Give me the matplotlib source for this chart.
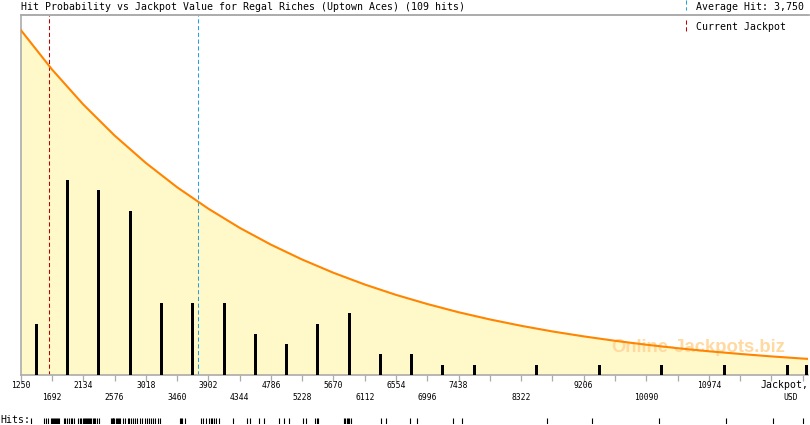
import matplotlib
matplotlib.use("Agg")
import matplotlib.pyplot as plt
from matplotlib.lines import Line2D

# ---------------- data ----------------
title = "Hit Probability vs Jackpot Value for Regal Riches (Uptown Aces) (109 hits)"
average_hit = 3750
current_jackpot = 1653

bar_x = [1471, 1913, 2355, 2797, 3239, 3681, 4123, 4565, 5007, 5449, 5891,
         6333, 6775, 7217, 7659, 8543, 9427, 10311, 11195, 12079, 12350]
bar_counts = [5, 19, 18, 16, 7, 7, 7, 4, 3, 5, 6, 2, 2, 1, 1, 1, 1, 1, 1, 1, 1]

curve_x = [1250, 1692, 2134, 2576, 3018, 3460, 3902, 4344, 4786, 5228, 5670,
           6112, 6554, 6996, 7438, 7880, 8322, 8764, 9206, 9648, 10090, 10532,
           10974, 11416, 11858, 12300, 12375]
curve_y = [33.6, 29.75, 26.34, 23.32, 20.65, 18.28, 16.19, 14.33, 12.69, 11.24,
           9.95, 8.81, 7.80, 6.91, 6.11, 5.41, 4.79, 4.24, 3.76, 3.33, 2.95,
           2.61, 2.31, 2.05, 1.81, 1.60, 1.57]

tick_values = [1250, 1692, 2134, 2576, 3018, 3460, 3902, 4344, 4786, 5228,
               5670, 6112, 6554, 6996, 7438, 7880, 8322, 8764, 9206, 9648,
               10090, 10532, 10974, 11416, 11858, 12300]
top_row_labels = [1250, 2134, 3018, 3902, 4786, 5670, 6554, 7438, 9206, 10974]
bottom_row_labels = [1692, 2576, 3460, 4344, 5228, 6112, 6996, 8322, 10090]

hits = [1395, 1578, 1606, 1641, 1676,
        1698, 1710, 1722, 1735, 1748, 1760, 1775, 1790, 1855, 1880, 1905,
        1930, 1955, 1980, 2000, 2065, 2085, 2105, 2125,
        2140, 2155, 2170, 2185, 2200, 2215, 2230, 2245, 2265, 2285, 2305,
        2330, 2355, 2520, 2535, 2550, 2560, 2570,
        2600, 2612, 2625, 2640, 2655, 2700, 2720, 2760, 2780, 2810, 2840,
        2870, 2900, 2930, 2965, 3000,
        3030, 3060, 3090, 3120, 3150, 3185, 3225,
        3505, 3520, 3533, 3575, 3800, 3830, 3864,
        3910, 3935, 3960, 3985, 4010, 4050, 4251,
        4450, 4490, 4620, 4690,
        4900, 4968, 5039,
        5240, 5280, 5410, 5430, 5455,
        5818, 5838, 5858, 5875, 5893, 5913,
        6341, 6412,
        6751, 6845,
        7358, 7481, 8682, 9318, 10273, 11216, 11880, 12310]

# ---------------- figure ----------------
W, H = 810, 425
fig = plt.figure(figsize=(W / 100, H / 100), dpi=100)
mono = "DejaVu Sans Mono"
fs = 7.1

L, R, T, B = 20.7, 808, 15, 375
ax = fig.add_axes([L / W, 1 - B / H, (R - L) / W, (B - T) / H])
ax.set_xlim(1250, 12375)
ax.set_ylim(0, 35.05)

fill_c = "#FFF8C8"
ax.fill_between(curve_x, 0, curve_y, color=fill_c, lw=0, zorder=1)
ax.text(0.861, 0.076, "Online-Jackpots.biz", transform=ax.transAxes,
        ha="center", va="center", fontsize=13.3, fontweight="bold",
        color="#FFD9A0", family="Liberation Sans", zorder=2)
ax.plot(curve_x, curve_y, color="#FF8400", lw=1.5, zorder=4,
        solid_joinstyle="round")
ax.bar(bar_x, bar_counts, width=42, color="black", lw=0, zorder=3)

ax.axvline(current_jackpot, color="#C00000", lw=0.75, ls=(0, (4, 2.5)), zorder=2)
ax.axvline(average_hit, color="#2A9FE0", lw=0.75, ls=(0, (4, 2.5)), zorder=2)

gray = "#ABABAB"
ax.spines["right"].set_visible(False)
for s in ["left", "bottom", "top"]:
    ax.spines[s].set_color(gray)
    ax.spines[s].set_linewidth(1.2)
ax.set_yticks([])
ax.set_xticks(tick_values)
ax.set_xticklabels([])
ax.tick_params(axis="x", direction="out", length=4, width=0.9, color=gray)

xt = ax.get_xaxis_transform()
for v in top_row_labels:
    ax.text(v, -(385 - B) / (B - T), str(v), transform=xt, ha="center",
            va="center", fontsize=5.8, family=mono)
for v in bottom_row_labels:
    ax.text(v, -(398 - B) / (B - T), str(v), transform=xt, ha="center",
            va="center", fontsize=5.8, family=mono)
fig.text(808 / W, 1 - 385 / H, "Jackpot,", ha="right", va="center",
         fontsize=fs, family=mono)
fig.text(791 / W, 1 - 398 / H, "USD", ha="center", va="center",
         fontsize=5.8, family=mono)

# top border extends to the right edge
fig.add_artist(Line2D([L / W, 1], [1 - T / H, 1 - T / H], color=gray, lw=1.2))

# header
fig.text(L / W, 1 - 7 / H, title, ha="left", va="center", fontsize=fs,
         family=mono)
fig.add_artist(Line2D([686 / W, 686 / W], [1 - 0 / H, 1 - 10 / H],
                      color="#2A9FE0", lw=0.75, ls=(0, (4, 2.5))))
fig.text(696 / W, 1 - 7 / H, "Average Hit: 3,750", ha="left", va="center",
         fontsize=fs, family=mono)
fig.add_artist(Line2D([686 / W, 686 / W], [1 - 20 / H, 1 - 33 / H],
                      color="#C00000", lw=0.75, ls=(0, (4, 2.5))))
fig.text(696 / W, 1 - 27 / H, "Current Jackpot", ha="left", va="center",
         fontsize=fs, family=mono)

# hits rug
rug = fig.add_axes([L / W, 1 - 424 / H, (R - L) / W, 6 / H])
rug.set_xlim(1250, 12375)
rug.set_ylim(0, 1)
rug.vlines(hits, 0, 1, color="black", lw=0.8)
rug.axis("off")
fig.text(0, 1 - 420 / H, "Hits:", ha="left", va="center", fontsize=fs,
         family=mono)

fig.savefig("out.png", dpi=100)
